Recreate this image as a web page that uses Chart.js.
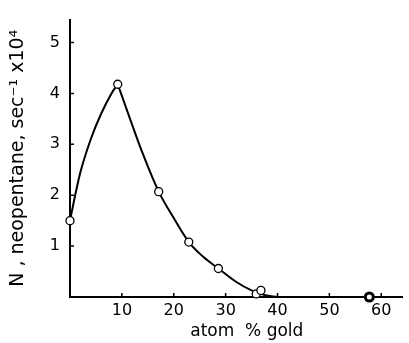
<!DOCTYPE html>
<html>
<head>
<meta charset="utf-8">
<script src="https://cdn.jsdelivr.net/npm/chart.js@4"></script>
<style>
  html, body { margin: 0; padding: 0; background: #fff; }
  #wrap { width: 409px; height: 343px; }
</style>
</head>
<body>
<div id="wrap"><canvas id="c"></canvas></div>
<script>
// measured points (atom % gold, N x 10^4)
const goldPct = [0, 9.2, 17.1, 22.9, 28.6, 35.9, 36.8, 57.7];
const rateN   = [1.5, 4.18, 2.07, 1.08, 0.56, 0.06, 0.13, 0];

// hand-drawn curve, rising branch and falling branch
const riseX = [0, 1, 2, 4, 6, 8, 9.2];
const riseY = [1.5, 2.0, 2.45, 3.1, 3.6, 4.0, 4.18];
const fallX = [9.2, 11.4, 13.9, 17.1, 20, 22.9, 25.8, 28.6, 32, 35, 37.5, 40];
const fallY = [4.18, 3.55, 2.85, 2.07, 1.55, 1.08, 0.78, 0.56, 0.3, 0.13, 0.04, 0];

const xTicks = [10, 20, 30, 40, 50, 60];
const yTicks = [1, 2, 3, 4, 5];

const FONT = "'DejaVu Sans', sans-serif";

// inward tick marks drawn through the scales
const innerTicks = {
    id: 'innerTicks',
    afterDraw(chart) {
        const ctx = chart.ctx;
        const xs = chart.scales.x, ys = chart.scales.y;
        const area = chart.chartArea;
        ctx.save();
        ctx.strokeStyle = '#000';
        ctx.lineWidth = 1.5;
        ctx.beginPath();
        xTicks.forEach(v => {
            const px = xs.getPixelForValue(v);
            ctx.moveTo(px, area.bottom);
            ctx.lineTo(px, area.bottom - 4);
        });
        yTicks.forEach(v => {
            const py = ys.getPixelForValue(v);
            ctx.moveTo(area.left, py);
            ctx.lineTo(area.left + 4, py);
        });
        ctx.stroke();
        ctx.restore();
    }
};

function curveSet(xs, ys) {
    return {
        data: xs.map((x, i) => ({ x: x, y: ys[i] })),
        showLine: true,
        borderColor: '#000',
        borderWidth: 2,
        pointRadius: 0,
        cubicInterpolationMode: 'monotone',
        clip: false,
        order: 1
    };
}

new Chart(document.getElementById('c'), {
    type: 'scatter',
    data: {
        datasets: [
            {
                label: 'marks',
                data: goldPct.map((x, i) => ({ x: x, y: rateN[i] })),
                pointRadius: 4,
                pointBackgroundColor: '#fff',
                pointBorderColor: '#000',
                pointBorderWidth: ctx => (ctx.raw && ctx.raw.x > 50 ? 3 : 1.3),
                showLine: false,
                clip: false,
                order: 0
            },
            curveSet(riseX, riseY),
            curveSet(fallX, fallY)
        ]
    },
    options: {
        responsive: true,
        maintainAspectRatio: false,
        animation: false,
        layout: { padding: { top: 10, right: 6, left: 0, bottom: 0 } },
        plugins: {
            legend: { display: false },
            tooltip: { enabled: false }
        },
        scales: {
            x: {
                type: 'linear',
                min: 0,
                max: 64,
                afterBuildTicks: s => { s.ticks = xTicks.map(v => ({ value: v })); },
                afterFit: s => { s.height = 46; },
                border: { display: true, color: '#000', width: 2 },
                grid: { display: false, drawTicks: false },
                ticks: { color: '#000', padding: 4, font: { family: FONT, size: 16 } },
                title: {
                    display: true,
                    text: '\u00A0\u00A0\u00A0\u00A0atom  % gold',
                    color: '#000',
                    padding: { top: 0, bottom: 1 },
                    font: { family: FONT, size: 17 }
                }
            },
            y: {
                type: 'linear',
                min: 0,
                max: 5.45,
                afterBuildTicks: s => { s.ticks = yTicks.map(v => ({ value: v })); },
                afterFit: s => { s.width = 70; },
                border: { display: true, color: '#000', width: 2 },
                grid: { display: false, drawTicks: false },
                ticks: { color: '#000', padding: 10, font: { family: FONT, size: 16 } },
                title: {
                    display: true,
                    text: 'N , neopentane, sec\u207B\u00B9 x10\u2074',
                    color: '#000',
                    padding: { top: 7, bottom: 0 },
                    font: { family: FONT, size: 19 }
                }
            }
        }
    },
    plugins: [innerTicks]
});
</script>
</body>
</html>
